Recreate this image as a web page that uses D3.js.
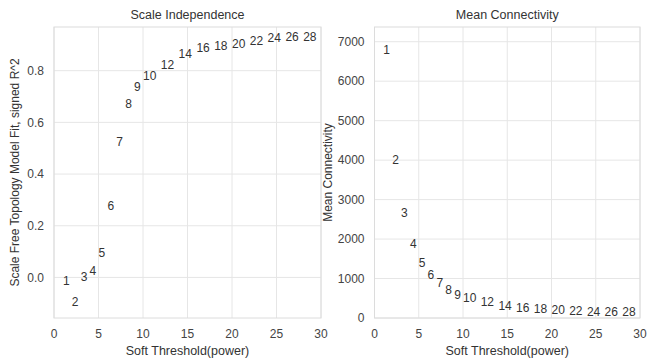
<!DOCTYPE html>
<html>
<head>
<meta charset="utf-8">
<script src="https://cdn.jsdelivr.net/npm/d3@7"></script>
<style>
  body { margin: 0; background: #fff; }
  svg text { font-family: "Liberation Sans", Arial, sans-serif; }
</style>
</head>
<body>
<svg id="chart" width="648" height="363"></svg>
<script>
// soft threshold powers tested
const powers = [1, 2, 3, 4, 5, 6, 7, 8, 9, 10, 12, 14, 16, 18, 20, 22, 24, 26, 28];

// signed R^2 of scale free fit
const fitR2 = [-0.03, -0.11, -0.013, 0.008, 0.078, 0.26, 0.508, 0.655, 0.721, 0.762,
  0.806, 0.848, 0.872, 0.879, 0.889, 0.899, 0.911, 0.915, 0.915];

// mean connectivity
const meanK = [6693, 3911, 2548, 1769, 1297, 982, 779, 612, 475, 398,
  297, 213, 162, 119, 94, 79, 61, 43, 43];

const xTicks = [0, 5, 10, 15, 20, 25, 30];
const leftYTicks = [0.0, 0.2, 0.4, 0.6, 0.8];
const rightYTicks = [0, 1000, 2000, 3000, 4000, 5000, 6000, 7000];

const svg = d3.select("#chart");
const plotTop = 27, plotBottom = 318;

const panels = [
  {
    title: "Scale Independence",
    ylabel: "Scale Free Topology Model Fit, signed R^2",
    left: 54, right: 321,
    ydomain: [-0.157, 0.969],
    yTicks: leftYTicks,
    fmt: d3.format(".1f"),
    values: fitR2,
    ylabelX: 15
  },
  {
    title: "Mean Connectivity",
    ylabel: "Mean Connectivity",
    left: 374.5, right: 640,
    ydomain: [0, 7373],
    yTicks: rightYTicks,
    fmt: d3.format("d"),
    values: meanK,
    ylabelX: 328
  }
];

panels.forEach((p) => {
  const x = d3.scaleLinear().domain([0, 30]).range([p.left, p.right]);
  const y = d3.scaleLinear().domain(p.ydomain).range([plotBottom, plotTop]);
  const g = svg.append("g");

  // grid
  g.selectAll(".gx").data(xTicks).join("line")
    .attr("x1", (d) => x(d)).attr("x2", (d) => x(d))
    .attr("y1", plotTop).attr("y2", plotBottom)
    .attr("stroke", "#e6e6e6").attr("stroke-width", 1);
  g.selectAll(".gy").data(p.yTicks).join("line")
    .attr("x1", p.left).attr("x2", p.right)
    .attr("y1", (d) => y(d)).attr("y2", (d) => y(d))
    .attr("stroke", "#e6e6e6").attr("stroke-width", 1);

  // frame
  g.append("rect")
    .attr("x", p.left).attr("y", plotTop)
    .attr("width", p.right - p.left).attr("height", plotBottom - plotTop)
    .attr("fill", "none").attr("stroke", "#dcdcdc").attr("stroke-width", 1);

  // tick labels
  g.selectAll(".tx").data(xTicks).join("text")
    .attr("x", (d) => x(d)).attr("y", 338)
    .attr("text-anchor", "middle")
    .attr("font-size", 12).attr("fill", "#444")
    .text((d) => d);
  g.selectAll(".ty").data(p.yTicks).join("text")
    .attr("x", p.left - 10).attr("y", (d) => y(d) + 4.3)
    .attr("text-anchor", "end")
    .attr("font-size", 12).attr("fill", "#444")
    .text(p.fmt);

  // titles / labels
  g.append("text")
    .attr("x", (p.left + p.right) / 2).attr("y", 19)
    .attr("text-anchor", "middle").attr("font-size", 12.5).attr("fill", "#333")
    .text(p.title);
  g.append("text")
    .attr("x", (p.left + p.right) / 2).attr("y", 355)
    .attr("text-anchor", "middle").attr("font-size", 12.5).attr("fill", "#333")
    .text("Soft Threshold(power)");
  g.append("text")
    .attr("transform", `translate(${p.ylabelX},${(plotTop + plotBottom) / 2}) rotate(-90)`)
    .attr("dy", "0.35em")
    .attr("text-anchor", "middle").attr("font-size", 12).attr("fill", "#333")
    .text(p.ylabel);

  // power labels as markers
  g.selectAll(".pt").data(powers).join("text")
    .attr("x", (d) => x(d))
    .attr("y", (d, i) => y(p.values[i]))
    .attr("font-size", 12).attr("fill", "#333")
    .text((d) => d);
});
</script>
</body>
</html>
